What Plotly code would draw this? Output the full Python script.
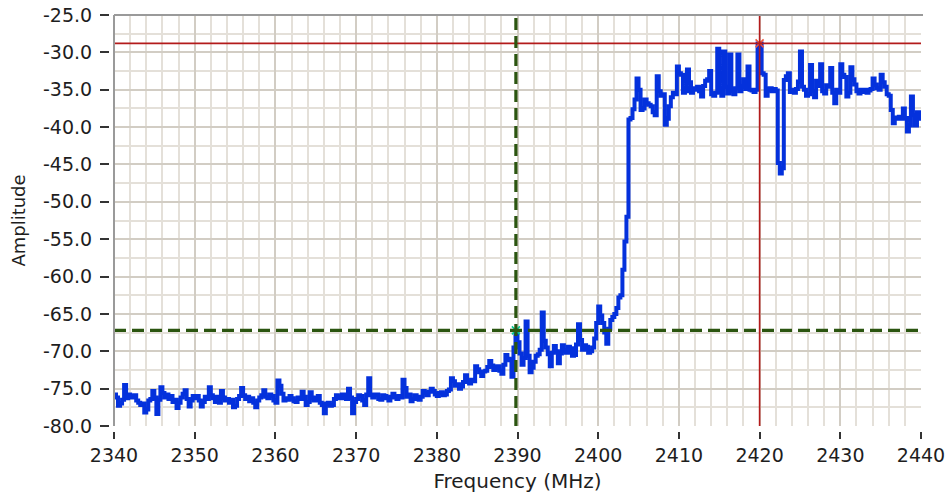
import numpy as np
import plotly.graph_objects as go

# ---- data, 0.25 MHz spacing ----
freq_start = 2340.0
freq_step = 0.25
amp_2340 = [-75.8, -76.2, -77.3, -77.0, -76.5, -74.5, -76.3, -75.8, -76.2, -76.0,
            -75.9, -76.6, -76.9, -77.2, -77.0, -78.2, -77.8, -76.6, -76.4, -75.3]
amp_2345 = [-76.2, -78.4, -76.5, -74.8, -75.6, -76.2, -75.8, -76.4, -76.0, -76.8,
            -76.5, -77.6, -76.9, -76.2, -75.7, -75.2, -76.4, -77.4, -76.6, -76.0]
amp_2350 = [-76.3, -76.0, -76.6, -77.4, -76.8, -76.1, -76.4, -74.8, -75.9, -76.3,
            -76.8, -76.1, -76.9, -75.3, -76.2, -76.6, -76.4, -76.9, -76.5, -77.5]
amp_2355 = [-77.3, -76.4, -76.0, -74.9, -75.9, -76.4, -76.1, -76.7, -76.3, -76.9,
            -77.5, -76.6, -76.2, -75.9, -75.2, -76.1, -76.3, -75.8, -76.0, -76.6]
amp_2360 = [-76.9, -73.9, -74.6, -75.7, -76.6, -76.3, -76.5, -76.0, -76.3, -76.7,
            -76.8, -76.2, -76.4, -75.4, -76.1, -77.2, -76.8, -75.5, -76.2, -76.6]
amp_2365 = [-76.3, -76.0, -76.9, -77.2, -78.3, -77.0, -76.9, -77.3, -77.2, -76.4,
            -75.9, -76.2, -76.3, -75.8, -76.0, -76.4, -75.0, -76.2, -78.3, -76.8]
amp_2370 = [-76.4, -75.9, -76.0, -76.6, -77.2, -75.8, -73.6, -75.9, -76.2, -75.8,
            -75.8, -76.4, -76.5, -75.9, -76.0, -76.3, -76.6, -76.1, -75.7, -76.2]
amp_2375 = [-76.4, -76.0, -76.2, -73.8, -74.9, -76.1, -75.8, -76.7, -76.4, -75.9,
            -76.2, -76.5, -76.1, -75.3, -75.6, -75.9, -75.4, -75.0, -75.3, -75.8]
amp_2380 = [-76.0, -75.6, -75.5, -75.9, -75.8, -75.3, -75.1, -73.6, -74.0, -74.6,
            -74.4, -75.0, -74.7, -74.1, -73.2, -74.0, -74.3, -73.8, -74.0, -72.0]
amp_2385 = [-72.4, -72.8, -73.3, -72.7, -72.6, -72.1, -71.3, -71.9, -72.5, -72.2,
            -72.0, -72.6, -73.0, -71.8, -70.5, -71.0, -71.2, -73.4, -69.5, -67.3]
amp_2390 = [-68.8, -70.3, -71.8, -70.9, -66.0, -70.6, -72.8, -72.2, -71.4, -70.6,
            -70.4, -69.8, -64.8, -68.6, -69.5, -70.4, -72.0, -70.2, -69.3, -70.0]
amp_2395 = [-71.6, -70.3, -69.2, -69.9, -70.2, -69.4, -69.6, -70.6, -70.5, -69.1,
            -66.4, -68.5, -69.8, -69.2, -69.4, -70.2, -70.0, -69.5, -68.3, -66.2]
amp_2400 = [-64.0, -65.2, -66.2, -67.5, -69.0, -67.0, -65.8, -65.4, -65.0, -64.2,
            -62.8, -62.5, -59.1, -55.3, -52.0, -39.0, -38.8, -37.6, -36.3, -33.5]
amp_2405 = [-35.0, -37.7, -37.5, -36.3, -36.8, -37.0, -37.2, -38.0, -38.4, -33.2,
            -35.2, -35.8, -35.6, -39.7, -38.9, -37.2, -36.0, -35.4, -35.6, -31.9]
amp_2410 = [-32.8, -33.0, -35.4, -35.2, -32.3, -34.0, -35.4, -34.8, -35.0, -34.6,
            -35.2, -35.9, -34.5, -33.8, -33.6, -32.5, -35.6, -35.8, -35.4, -29.5]
amp_2415 = [-35.3, -35.8, -29.9, -34.6, -35.5, -30.3, -35.1, -35.6, -34.8, -30.3,
            -35.2, -34.6, -33.6, -34.9, -31.9, -35.0, -35.1, -35.3, -35.0, -28.8]
amp_2420 = [-28.8, -32.8, -33.0, -35.8, -35.0, -34.8, -35.2, -34.9, -35.1, -44.8,
            -46.2, -45.5, -33.7, -33.2, -32.8, -35.3, -35.0, -35.4, -34.9, -33.9]
amp_2425 = [-29.9, -34.6, -35.0, -35.8, -35.6, -31.7, -35.2, -36.0, -33.8, -34.5,
            -31.6, -35.2, -35.5, -34.4, -34.6, -32.1, -35.4, -36.8, -35.0, -35.4]
amp_2430 = [-31.6, -33.0, -33.3, -35.9, -35.4, -32.0, -33.6, -34.3, -35.2, -35.5,
            -35.0, -35.3, -35.0, -35.4, -35.1, -34.9, -33.5, -34.3, -34.8, -35.0]
amp_2435 = [-33.0, -34.0, -34.6, -35.6, -35.8, -37.7, -39.5, -38.7, -38.9, -38.6,
            -38.9, -37.5, -38.8, -40.6, -39.8, -35.9, -38.4, -39.8, -38.0, -38.9,
            -38.6]
amplitude = (amp_2340 + amp_2345 + amp_2350 + amp_2355 + amp_2360 + amp_2365 + amp_2370
             + amp_2375 + amp_2380 + amp_2385 + amp_2390 + amp_2395 + amp_2400 + amp_2405
             + amp_2410 + amp_2415 + amp_2420 + amp_2425 + amp_2430 + amp_2435)
frequency = freq_start + freq_step * np.arange(len(amplitude))

cursor_freq = [2420.0, 2389.8]
cursor_amp = [-28.8, -67.2]
cursor_colors = ["#b31b1b", "#2b5510"]
cursor_mark_colors = ["#d04545", "#8a9a80"]

x_range = [2340, 2440]
y_range = [-80, -25]
x_ticks = [2340, 2350, 2360, 2370, 2380, 2390, 2400, 2410, 2420, 2430, 2440]
y_ticks = [-80, -75, -70, -65, -60, -55, -50, -45, -40, -35, -30, -25]

# ---- layout geometry (pixels) ----
W, H = 946, 497
L, R, T, B = 114, 921, 15, 426
xd = [L / W, R / W]
yd = [1 - B / H, 1 - T / H]

FONT = "DejaVu Sans"
grid_minor = "#e4e0d9"
grid_major = "#d2cdc4"

fig = go.Figure()
fig.add_trace(go.Scatter(
    x=frequency, y=amplitude, mode="lines",
    line=dict(color="#0431dc", width=4.0, shape="hv"),
    showlegend=False, hoverinfo="x+y",
))

# cursors
fig.add_hline(y=cursor_amp[0], line=dict(color=cursor_colors[0], width=1.6))
fig.add_vline(x=cursor_freq[0], line=dict(color=cursor_colors[0], width=1.6))
fig.add_hline(y=cursor_amp[1], line=dict(color=cursor_colors[1], width=3.2, dash="12px,6px"))
fig.add_vline(x=cursor_freq[1], line=dict(color=cursor_colors[1], width=3.2, dash="12px,6px"))
for cx, cy, cc in zip(cursor_freq, cursor_amp, cursor_mark_colors):
    fig.add_trace(go.Scatter(
        x=[cx], y=[cy], mode="markers",
        marker=dict(symbol="x-thin-open", size=8, line=dict(width=1.6, color=cc)),
        showlegend=False, hoverinfo="skip",
    ))

# plot border (top and left only)
fig.add_shape(type="line", xref="paper", yref="paper", x0=xd[0], x1=(R + 2) / W, y0=yd[1], y1=yd[1],
              line=dict(color="#9a9a9a", width=2))
fig.add_shape(type="line", xref="paper", yref="paper", x0=xd[0], x1=xd[0], y0=yd[0], y1=yd[1],
              line=dict(color="#9a9a9a", width=2))

fig.update_layout(
    width=W, height=H,
    margin=dict(l=0, r=0, t=0, b=0, autoexpand=False),
    paper_bgcolor="white", plot_bgcolor="white",
    font=dict(family=FONT, size=19, color="#1e1e1e"),
    xaxis=dict(
        domain=xd, range=x_range, anchor="free", position=1 - (B + 5) / H,
        tickmode="array", tickvals=x_ticks, ticktext=[str(v) for v in x_ticks],
        ticks="outside", ticklen=7, tickwidth=1.5, tickcolor="#333",
        showline=False, zeroline=False,
        showgrid=True, gridcolor=grid_major, gridwidth=1.5,
        minor=dict(dtick=2, tick0=2340, showgrid=True, gridcolor=grid_minor, gridwidth=1.5, ticks=""),
        title=dict(text="Frequency (MHz)", font=dict(size=20), standoff=9),
        tickfont=dict(size=19),
    ),
    yaxis=dict(
        domain=yd, range=y_range, anchor="free", position=(L - 5) / W,
        tickmode="array", tickvals=y_ticks, ticktext=[f"{v:.1f}" for v in y_ticks],
        ticks="outside", ticklen=9, tickwidth=2, tickcolor="#333",
        ticklabelstandoff=4,
        showline=False, zeroline=False,
        showgrid=True, gridcolor=grid_major, gridwidth=1.5,
        minor=dict(dtick=2.5, tick0=-80, showgrid=True, gridcolor=grid_minor, gridwidth=1.5, ticks=""),
        title=dict(text="Amplitude", font=dict(size=18), standoff=11),
        tickfont=dict(size=19),
    ),
)

fig.write_html(
    "out.html",
    config={"displayModeBar": False},
    post_script="document.body.style.margin='0';document.body.style.overflow='hidden';",
)
